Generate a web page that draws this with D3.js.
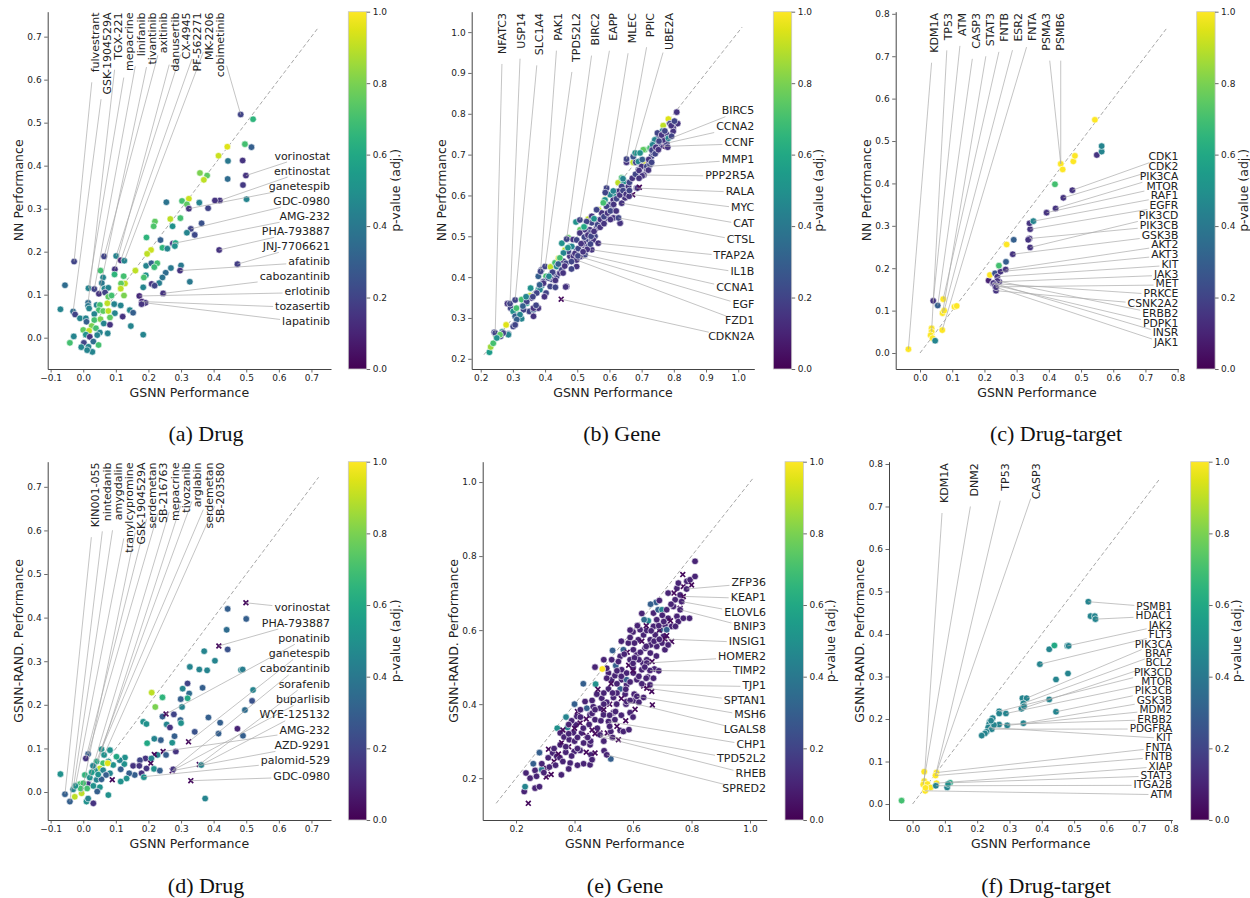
<!DOCTYPE html>
<html><head><meta charset="utf-8">
<script src="https://cdn.jsdelivr.net/npm/d3@7"></script>
<style>
body{margin:0;background:#fff;}
svg text{font-family:"DejaVu Sans",sans-serif;}
</style></head><body>
<svg id="chart" width="1250" height="898"></svg>
<script>
// ---------------- DATA ----------------
// each point: [GSNN performance, other model performance, adjusted p-value, marker(1 = x)]
const drugNN = [
[0.483,0.519,0.2],[0.521,0.508,0.65],[0.496,0.45,0.7],[0.516,0.443,0.3],[0.442,0.444,0.95],[0.415,0.423,0.92],[0.444,0.411,0.4],[0.489,0.412,0.15],[0.499,0.377,0.15],[0.49,0.355,0.17],[0.443,0.369,0.35],[0.358,0.383,0.8],[0.38,0.377,0.75],[0.37,0.367,0.9],[0.501,0.322,0.45],[0.419,0.319,0.15],[0.404,0.319,0.15],[0.383,0.301,0.2],[0.356,0.314,0.45],[0.324,0.323,0.92],[0.303,0.318,0.7],[0.318,0.31,0.75],[0.324,0.30,0.15],[0.255,0.315,0.38],[0.363,0.266,0.25],[0.33,0.253,0.2],[0.342,0.239,0.22],[0.318,0.244,0.45],[0.22,0.27,0.75],[0.216,0.259,0.72],[0.267,0.276,0.9],[0.298,0.278,0.7],[0.274,0.259,0.5],[0.194,0.233,0.65],[0.237,0.227,0.3],[0.275,0.219,0.15],[0.283,0.22,0.6],[0.281,0.213,0.5],[0.243,0.209,0.65],[0.258,0.207,0.45],[0.208,0.204,0.92],[0.196,0.195,0.9],[0.417,0.204,0.15],[0.473,0.171,0.18],[0.16,0.156,0.9],[0.064,0.189,0.2],[0.101,0.19,0.45],[0.115,0.18,0.12],[0.126,0.179,0.45],[-0.028,0.177,0.2],[-0.056,0.122,0.35],[-0.07,0.066,0.45],[0.193,0.167,0.45],[0.209,0.173,0.3],[0.227,0.173,0.7],[0.218,0.164,0.68],[0.192,0.145,0.5],[0.186,0.14,0.7],[0.184,0.117,0.45],[0.269,0.162,0.4],[0.3,0.168,0.4],[0.297,0.156,0.15],[0.253,0.151,0.35],[0.243,0.14,0.38],[0.327,0.13,0.4],[0.233,0.127,0.42],[0.21,0.125,0.15],[0.219,0.121,0.2],[0.245,0.103,0.15],[0.172,0.097,0.12],[0.18,0.084,0.12],[0.191,0.081,0.15],[0.179,0.078,0.15],[0.184,0.007,0.45],
[0.053,0.156,0.7],[0.061,0.14,0.45],[0.097,0.159,0.15],[0.096,0.147,0.65],[0.124,0.143,0.7],[0.057,0.127,0.4],[0.016,0.115,0.45],[0.034,0.113,0.2],[0.065,0.114,0.45],[0.077,0.116,0.45],[0.128,0.126,0.9],[0.116,0.126,0.75],[0.115,0.114,0.9],[0.048,0.102,0.15],[0.067,0.105,0.2],[0.077,0.095,0.75],[0.087,0.098,0.7],[0.125,0.098,0.8],[0.015,0.081,0.35],[0.015,0.074,0.4],[0.018,0.068,0.45],[-0.031,0.061,0.35],[-0.025,0.054,0.2],[0.041,0.076,0.45],[0.051,0.076,0.7],[0.074,0.08,0.9],[0.095,0.078,0.45],[0.115,0.075,0.45],[0.048,0.064,0.7],[0.061,0.062,0.75],[0.077,0.062,0.9],[0.097,0.057,0.45],[0.034,0.055,0.45],[0.143,0.064,0.45],[0.153,0.058,0.3],[0.121,0.049,0.15],[0.082,0.047,0.75],[-0.01,0.045,0.45],[0.008,0.045,0.45],[0.034,0.041,0.7],[0.053,0.043,0.8],[0.063,0.033,0.45],[0.082,0.03,0.15],[0.146,0.027,0.45],[0.01,0.037,0.3],[0.026,0.027,0.8],[0.0,0.018,0.75],[0.018,0.016,0.9],[0.039,0.022,0.7],[0.051,0.012,0.45],[0.075,0.01,0.45],[0.043,0.006,0.45],[0.008,0.007,0.5],[-0.029,0.003,0.45],[0.02,0.002,0.15],[-0.041,-0.012,0.7],[0.002,-0.012,0.2],[0.031,-0.009,0.35],[-0.006,-0.022,0.45],[0.016,-0.021,0.45],[0.047,-0.017,0.7],[0.028,-0.033,0.45],[0.012,-0.029,0.45]
];
const drugNN_top = [["fulvestrant",-0.028,0.177],["GSK-1904529A",-0.031,0.061],["TGX-221",0.015,0.081],["mepacrine",0.016,0.115],["linifanib",0.034,0.113],["tivantinib",0.048,0.102],["axitinib",0.064,0.189],["danusertib",0.097,0.159],["CX-4945",0.101,0.19],["PF-562271",0.115,0.18],["MK-2206",0.126,0.179],["cobimetinib",0.483,0.519]];
const drugNN_right = [["vorinostat",0.499,0.377],["entinostat",0.419,0.319],["ganetespib",0.324,0.30],["GDC-0980",0.33,0.253],["AMG-232",0.275,0.219],["PHA-793887",0.417,0.204],["JNJ-7706621",0.473,0.171],["afatinib",0.297,0.156],["cabozantinib",0.245,0.103],["erlotinib",0.172,0.097],["tozasertib",0.18,0.084],["lapatinib",0.191,0.081]];

const geneNN = [
[0.227,0.216,0.55],[0.231,0.229,0.85],[0.239,0.238,0.7],[0.242,0.265,0.2],[0.248,0.255,0.75],[0.245,0.263,0.2],[0.262,0.255,0.2],[0.267,0.266,0.45],[0.286,0.261,0.25],[0.279,0.283,0.95],[0.283,0.335,0.15],[0.293,0.324,0.2],[0.291,0.335,0.2],[0.301,0.316,0.5],[0.311,0.324,0.7],[0.307,0.304,0.3],[0.301,0.279,0.2],[0.307,0.344,0.2],[0.327,0.345,0.7],[0.343,0.336,0.55],[0.327,0.298,0.45],[0.355,0.373,0.5],[0.353,0.354,0.9],[0.351,0.316,0.2],[0.364,0.32,0.3],[0.379,0.324,0.15],[0.364,0.304,0.15],[0.379,0.402,0.3],[0.389,0.418,0.2],[0.386,0.414,0.2],[0.403,0.402,0.7],[0.389,0.379,0.45],[0.403,0.361,0.2],[0.395,0.389,0.2],[0.379,0.369,0.5],[0.4,0.426,0.2],[0.417,0.425,0.9],[0.431,0.435,0.7],[0.436,0.402,0.2],[0.42,0.395,0.2],[0.442,0.446,0.95],[0.457,0.439,0.15],[0.467,0.377,0.15],[0.477,0.451,0.15],[0.462,0.466,0.9],[0.452,0.483,0.5],[0.477,0.475,0.45],[0.472,0.496,0.75],[0.487,0.492,0.15],[0.467,0.493,0.2],[0.498,0.426,0.15],[0.514,0.452,0.15],[0.498,0.467,0.2],[0.519,0.479,0.15],[0.529,0.492,0.2],[0.509,0.516,0.75],[0.524,0.52,0.3],[0.539,0.516,0.15],[0.545,0.492,0.15],[0.555,0.5,0.2],[0.496,0.535,0.5],[0.508,0.54,0.2],[0.534,0.542,0.9],[0.545,0.533,0.2],[0.56,0.52,0.15],[0.576,0.533,0.15],[0.566,0.565,0.9],[0.576,0.557,0.3],[0.589,0.608,0.15],[0.586,0.59,0.95],[0.602,0.577,0.2],[0.612,0.565,0.2],[0.591,0.545,0.15],[0.612,0.545,0.15],[0.633,0.533,0.15],[0.617,0.598,0.5],[0.591,0.618,0.2],[0.627,0.631,0.9],[0.638,0.643,0.7],[0.638,0.606,0.2],[0.653,0.618,0.15],[0.648,0.594,0.15],[0.672,0.602,0.03,1],[0.684,0.618,0.15],[0.653,0.681,0.15],[0.653,0.689,0.2],[0.674,0.681,0.9],[0.674,0.695,0.25],[0.68,0.704,0.5],[0.69,0.663,0.2],[0.705,0.651,0.3],[0.71,0.712,0.7],[0.715,0.676,0.15],[0.731,0.696,0.2],[0.741,0.724,0.45],[0.747,0.708,0.15],[0.762,0.722,0.03,1],[0.767,0.741,0.45],[0.778,0.749,0.15],[0.757,0.745,0.2],
[0.809,0.804,0.15],[0.812,0.776,0.15],[0.783,0.787,0.95],[0.767,0.771,0.9],[0.798,0.765,0.15],[0.788,0.776,0.2],[0.765,0.758,0.4],[0.778,0.736,0.2],[0.752,0.745,0.2],[0.736,0.727,0.45],[0.726,0.716,0.7],[0.705,0.712,0.75],[0.736,0.704,0.2],[0.695,0.704,0.5],[0.682,0.681,0.2],[0.703,0.681,0.95],[0.765,0.72,0.03,1],[0.778,0.728,0.2],[0.69,0.683,0.45],[0.7,0.671,0.15],[0.716,0.663,0.15],[0.716,0.671,0.2],[0.726,0.675,0.2],[0.757,0.72,0.15],[0.767,0.736,0.15],[0.783,0.74,0.45],[0.798,0.757,0.15],[0.793,0.745,0.2],[0.752,0.728,0.2],[0.741,0.736,0.45],[0.749,0.753,0.2],[0.734,0.724,0.45],[0.707,0.65,0.15],[0.645,0.634,0.5],[0.659,0.622,0.15],[0.638,0.622,0.2],[0.628,0.61,0.15],[0.648,0.606,0.2],[0.612,0.589,0.15],[0.602,0.602,0.45],[0.586,0.589,0.5],[0.591,0.573,0.2],[0.576,0.557,0.15],[0.56,0.565,0.2],[0.545,0.549,0.15],[0.56,0.54,0.15],[0.529,0.536,0.2],[0.524,0.516,0.15],[0.539,0.508,0.2],[0.508,0.508,0.15],[0.498,0.491,0.2],[0.519,0.483,0.15],[0.534,0.475,0.2],[0.55,0.491,0.15],[0.483,0.475,0.45],[0.472,0.463,0.2],[0.488,0.451,0.15],[0.457,0.459,0.45],[0.446,0.447,0.7],[0.465,0.434,0.2],[0.436,0.426,0.45],[0.426,0.41,0.2],[0.446,0.41,0.15],[0.41,0.398,0.2],[0.395,0.385,0.15],[0.416,0.377,0.2],[0.384,0.369,0.45],[0.374,0.361,0.2],[0.358,0.349,0.15],[0.343,0.34,0.2],[0.364,0.324,0.15],[0.333,0.32,0.2],[0.322,0.308,0.45],[0.312,0.296,0.3],[0.307,0.283,0.2],[0.286,0.259,0.45],[0.27,0.263,0.2],[0.26,0.259,0.75],[0.25,0.251,0.5],[0.633,0.532,0.15],[0.687,0.618,0.15],[0.464,0.376,0.15],[0.587,0.607,0.2],[0.565,0.483,0.15],[0.545,0.467,0.15],[0.524,0.455,0.2],[0.508,0.45,0.15],[0.498,0.442,0.15],[0.638,0.581,0.15],[0.628,0.545,0.2],[0.45,0.346,0.03,1],
[0.423,0.412,0.2],[0.432,0.392,0.15],[0.452,0.418,0.2],[0.461,0.427,0.15],[0.482,0.438,0.2],[0.493,0.458,0.15],[0.503,0.47,0.2],[0.512,0.482,0.15],[0.522,0.498,0.2],[0.533,0.503,0.15],[0.543,0.5,0.2],[0.552,0.512,0.15],[0.563,0.528,0.2],[0.572,0.541,0.15],[0.583,0.548,0.2],[0.594,0.557,0.15],[0.603,0.562,0.2],[0.613,0.578,0.15],[0.622,0.592,0.2],[0.632,0.601,0.15],[0.642,0.612,0.2],[0.652,0.603,0.15],[0.662,0.632,0.2],[0.671,0.642,0.15],[0.681,0.652,0.2],[0.692,0.661,0.15],[0.702,0.688,0.3],[0.722,0.688,0.15],[0.732,0.711,0.2],[0.744,0.718,0.15],[0.754,0.733,0.2],[0.762,0.748,0.15],[0.772,0.758,0.2],[0.792,0.771,0.15],[0.802,0.782,0.2],[0.471,0.472,0.5],[0.441,0.432,0.3],[0.412,0.402,0.45],[0.383,0.381,0.3],[0.362,0.352,0.2],[0.341,0.352,0.45],[0.331,0.329,0.3],[0.521,0.523,0.6],[0.552,0.543,0.5],[0.581,0.582,0.7],[0.612,0.611,0.45],[0.642,0.641,0.45],[0.571,0.522,0.15],[0.603,0.541,0.15],[0.502,0.452,0.2],[0.531,0.468,0.15],[0.621,0.562,0.15],[0.661,0.598,0.15],[0.702,0.648,0.15],[0.721,0.662,0.15],[0.742,0.702,0.2],[0.583,0.531,0.15],[0.541,0.481,0.2],[0.518,0.462,0.15],[0.482,0.42,0.2],[0.456,0.41,0.15],[0.432,0.375,0.2],[0.398,0.352,0.15],[0.372,0.331,0.2],[0.662,0.612,0.2],[0.692,0.642,0.15],[0.731,0.681,0.2],[0.752,0.712,0.15],[0.781,0.718,0.15],[0.693,0.62,0.03,1]
];
const geneNN_top = [["NFATC3",0.245,0.263],["USP14",0.291,0.335],["SLC1A4",0.307,0.344],["PAK1",0.386,0.414],["TPD52L2",0.4,0.426],["BIRC2",0.467,0.493],["EAPP",0.508,0.54],["MLEC",0.591,0.618],["PPIC",0.653,0.689],["UBE2A",0.674,0.695]];
const geneNN_right = [["BIRC5",0.778,0.736],["CCNA2",0.778,0.728],["CCNF",0.765,0.72],["MMP1",0.716,0.671],["PPP2R5A",0.707,0.65],["RALA",0.684,0.618],["MYC",0.672,0.602],["CAT",0.638,0.581],["CTSL",0.628,0.545],["TFAP2A",0.565,0.483],["IL1B",0.545,0.467],["CCNA1",0.524,0.455],["EGF",0.508,0.45],["FZD1",0.498,0.442],["CDKN2A",0.45,0.346]];

const targetNN = [
[-0.036,0.009,1.0],[0.036,0.058,1.0],[0.036,0.05,1.0],[0.033,0.042,1.0],[0.039,0.035,1.0],[0.047,0.029,0.45],[0.041,0.123,0.15],[0.055,0.112,0.3],[0.072,0.127,1.0],[0.07,0.094,1.0],[0.075,0.1,1.0],[0.069,0.054,1.0],[0.107,0.109,1.0],[0.114,0.111,1.0],[0.213,0.171,0.1],[0.217,0.184,1.0],[0.233,0.188,0.25],[0.226,0.164,0.15],[0.234,0.156,0.15],[0.24,0.18,0.15],[0.246,0.168,0.15],[0.24,0.17,0.15],[0.228,0.165,0.15],[0.233,0.16,0.15],[0.236,0.147,0.15],[0.236,0.155,0.15],[0.25,0.192,0.15],[0.245,0.206,0.7],[0.267,0.215,0.3],[0.266,0.197,0.15],[0.269,0.256,1.0],[0.288,0.233,0.15],[0.291,0.267,0.3],[0.34,0.27,0.15],[0.342,0.249,0.15],[0.336,0.267,0.15],[0.342,0.292,0.15],[0.34,0.306,0.15],[0.352,0.311,0.45],[0.393,0.331,0.15],[0.421,0.341,0.15],[0.445,0.366,0.15],[0.473,0.384,0.15],[0.419,0.398,0.7],[0.437,0.446,1.0],[0.443,0.433,1.0],[0.476,0.452,1.0],[0.481,0.465,1.0],[0.549,0.467,0.15],[0.564,0.475,0.45],[0.564,0.488,0.45],[0.543,0.55,1.0]
];
const targetNN_top = [["KDM1A",-0.036,0.009],["TP53",0.036,0.05],["ATM",0.041,0.123],["CASP3",0.055,0.112],["STAT3",0.07,0.094],["FNTB",0.072,0.127],["ESR2",0.075,0.1],["FNTA",0.069,0.054],["PSMA3",0.437,0.446],["PSMB6",0.437,0.446]];
const targetNN_right = [["CDK1",0.473,0.384],["CDK2",0.445,0.366],["PIK3CA",0.421,0.341],["MTOR",0.393,0.331],["RAF1",0.352,0.311],["EGFR",0.342,0.292],["PIK3CD",0.342,0.249],["PIK3CB",0.34,0.27],["GSK3B",0.288,0.233],["AKT2",0.266,0.197],["AKT3",0.25,0.192],["KIT",0.24,0.18],["JAK3",0.246,0.168],["MET",0.234,0.156],["PRKCE",0.226,0.164],["CSNK2A2",0.236,0.147],["ERBB2",0.24,0.17],["PDPK1",0.233,0.16],["INSR",0.228,0.165],["JAK1",0.236,0.155]];

const drugRAND = [
[0.499,0.434,0.03,1],[0.443,0.42,0.3],[0.5,0.397,0.3],[0.44,0.372,0.35],[0.416,0.335,0.03,1],[0.443,0.327,0.25],[0.371,0.323,0.45],[0.404,0.301,0.45],[0.327,0.287,0.45],[0.356,0.281,0.45],[0.38,0.279,0.45],[0.484,0.28,0.45],[0.489,0.281,0.42],[0.32,0.249,0.2],[0.305,0.237,0.45],[0.366,0.239,0.3],[0.325,0.226,0.35],[0.521,0.234,0.45],[0.21,0.228,0.9],[0.243,0.217,0.65],[0.32,0.215,0.6],[0.299,0.213,0.3],[0.518,0.209,0.25],[0.221,0.195,0.8],[0.303,0.195,0.45],[0.496,0.188,0.35],[0.243,0.173,0.3],[0.254,0.179,0.03,1],[0.278,0.178,0.2],[0.384,0.171,0.3],[0.298,0.165,0.3],[0.3,0.158,0.5],[0.184,0.161,0.5],[0.194,0.156,0.5],[0.256,0.155,0.45],[0.266,0.148,0.15],[0.42,0.159,0.3],[0.473,0.145,0.1],[0.342,0.138,0.25],[0.415,0.134,0.3],[0.49,0.129,0.3],[0.28,0.128,0.3],[0.323,0.115,0.03,1],[0.218,0.122,0.45],[0.238,0.119,0.3],[0.196,0.112,0.6],[0.273,0.113,0.5],[0.284,0.093,0.15],[0.245,0.093,0.03,1],[0.254,0.085,0.3],[0.228,0.085,0.45],[0.218,0.086,0.03,1],[0.191,0.077,0.15],[0.174,0.073,0.2],[0.209,0.077,0.45],[0.207,0.066,0.03,1],[0.194,0.054,0.15],[0.217,0.053,0.5],[0.235,0.049,0.3],[0.273,0.049,0.03,1],[0.276,0.052,0.15],[0.356,0.063,0.03,1],[0.362,0.062,0.45],[0.33,0.026,0.03,1],[0.374,-0.015,0.45],[0.179,0.043,0.15],[0.186,0.034,0.5],[0.153,0.06,0.15],[0.158,0.039,0.3],[0.172,0.06,0.15],[0.128,0.079,0.5],[0.126,0.064,0.5],[0.112,0.073,0.45],[0.102,0.081,0.6],[0.082,0.096,0.5],[0.056,0.098,0.5],[0.064,0.085,0.5],[0.077,0.07,0.5],[0.092,0.062,0.5],[0.115,0.052,0.3],[0.141,0.043,0.3],[0.133,0.031,0.5],[0.115,0.024,0.5],[0.089,0.028,0.03,1],[0.015,0.087,0.3],[0.008,0.077,0.15],[0.041,0.07,0.6],[0.061,0.066,0.7],[0.075,0.066,0.95],[0.051,0.054,0.9],[0.036,0.049,0.5],[0.061,0.05,0.45],[0.082,0.043,0.45],[0.07,0.039,0.3],[0.005,0.039,0.65],[0.02,0.033,0.5],[0.041,0.028,0.45],[0.056,0.029,0.3],[0.015,0.018,0.15],[-0.01,0.018,0.7],[0.0,0.02,0.7],[0.031,0.014,0.5],[0.051,0.011,0.5],[0.077,-0.007,0.5],[0.043,0.001,0.3],[-0.005,-0.003,0.9],[-0.026,-0.011,0.9],[0.012,0.008,0.7],[-0.008,0.008,0.7],[-0.031,0.006,0.45],[-0.024,0.014,0.5],[0.01,-0.022,0.5],[0.031,-0.026,0.15],[0.015,-0.015,0.45],[-0.041,-0.022,0.3],[-0.056,-0.005,0.3],[-0.07,0.041,0.5],[0.026,0.045,0.55],[0.046,0.04,0.5],[0.03,0.06,0.45]
];
const drugRAND_top = [["KIN001-055",-0.056,-0.005],["nintedanib",-0.041,-0.022],["amygdalin",-0.031,0.006],["tranylcypromine",-0.024,0.014],["GSK-1904529A",-0.005,-0.003],["serdemetan",0.008,0.077],["SB-216763",0.015,0.087],["mepacrine",0.02,0.033],["tivozanib",0.036,0.049],["arglabin",0.041,0.07],["serdemetan",0.056,0.098],["SB-203580",0.064,0.085]];
const drugRAND_right = [["vorinostat",0.499,0.434],["PHA-793887",0.416,0.335],["ponatinib",0.254,0.179],["ganetespib",0.323,0.115],["cabozantinib",0.276,0.052],["sorafenib",0.356,0.063],["buparlisib",0.273,0.049],["WYE-125132",0.362,0.062],["AMG-232",0.245,0.093],["AZD-9291",0.273,0.049],["palomid-529",0.184,0.035],["GDC-0980",0.33,0.026]];

const geneRAND = [
[0.242,0.132,0.03,1],[0.228,0.164,0.1],[0.231,0.177,0.45],[0.248,0.2,0.1],[0.234,0.214,0.1],[0.265,0.221,0.1],[0.259,0.239,0.3],[0.288,0.223,0.4],[0.288,0.239,0.1],[0.305,0.227,0.03,1],[0.265,0.173,0.1],[0.28,0.177,0.1],[0.303,0.203,0.03,1],[0.314,0.23,0.1],[0.355,0.209,0.1],[0.28,0.269,0.3],[0.311,0.278,0.03,1],[0.325,0.268,0.1],[0.351,0.29,0.1],[0.339,0.259,0.1],[0.385,0.241,0.1],[0.399,0.272,0.1],[0.341,0.335,0.5],[0.376,0.337,0.45],[0.371,0.365,0.45],[0.356,0.296,0.03,1],[0.351,0.322,0.1],[0.364,0.311,0.1],[0.382,0.304,0.1],[0.396,0.323,0.1],[0.405,0.344,0.1],[0.408,0.367,0.1],[0.419,0.349,0.03,1],[0.424,0.322,0.1],[0.431,0.295,0.1],[0.419,0.275,0.1],[0.453,0.29,0.1],[0.456,0.263,0.1],[0.431,0.239,0.1],[0.453,0.236,0.1],[0.47,0.268,0.03,1],[0.442,0.389,0.3],[0.436,0.407,0.1],[0.464,0.393,0.1],[0.453,0.371,0.1],[0.47,0.358,0.1],[0.478,0.335,0.1],[0.487,0.322,0.03,1],[0.499,0.371,0.1],[0.487,0.389,0.1],[0.493,0.416,0.1],[0.476,0.427,0.1],[0.512,0.322,0.03,1],[0.524,0.326,0.1],[0.538,0.358,0.1],[0.556,0.329,0.1],[0.55,0.304,0.03,1],[0.567,0.326,0.1],[0.586,0.331,0.1],[0.501,0.274,0.1],[0.524,0.252,0.3],[0.533,0.377,0.1],[0.544,0.4,0.1],[0.533,0.418,0.1],[0.516,0.441,0.1],[0.527,0.466,0.1],[0.516,0.484,0.1],[0.538,0.477,0.1],[0.541,0.504,0.3],[0.527,0.52,0.1],[0.51,0.497,0.1],[0.495,0.495,1.0],[0.472,0.454,0.5],[0.556,0.441,0.3],[0.573,0.427,0.1],[0.561,0.466,0.1],[0.578,0.452,0.1],[0.578,0.466,0.3],[0.561,0.493,0.1],[0.578,0.484,0.1],[0.59,0.52,0.1],[0.556,0.529,0.1],[0.567,0.547,0.3],[0.601,0.547,0.1],[0.584,0.565,0.1],[0.613,0.533,0.1],[0.634,0.511,0.1],[0.63,0.493,0.1],[0.601,0.484,0.1],[0.613,0.466,0.1],[0.636,0.449,0.03,1],[0.604,0.427,0.1],[0.601,0.409,0.1],[0.576,0.4,0.1],[0.59,0.377,0.1],[0.607,0.386,0.03,1],[0.636,0.418,0.1],[0.664,0.434,0.03,1],[0.666,0.398,0.03,1],[0.65,0.473,0.1],[0.67,0.47,0.1],[0.673,0.495,0.1],[0.688,0.49,0.1],[0.647,0.52,0.1],[0.659,0.538,0.1],[0.641,0.551,0.1],[0.618,0.574,0.1],[0.636,0.587,0.1],[0.624,0.601,0.1],[0.647,0.599,0.1],[0.659,0.574,0.1],[0.676,0.587,0.1],[0.693,0.601,0.3],[0.67,0.61,0.1],[0.681,0.628,0.1],[0.652,0.625,0.45],[0.638,0.628,0.35],[0.67,0.646,0.1],[0.686,0.655,0.3],[0.679,0.675,0.3],[0.699,0.655,0.45],[0.715,0.655,0.1],[0.72,0.632,0.1],[0.709,0.614,0.1],[0.704,0.583,0.1],[0.699,0.565,0.1],[0.709,0.547,0.1],[0.681,0.556,0.1],[0.732,0.569,0.03,1],[0.732,0.61,0.1],[0.715,0.601,0.3],[0.75,0.637,0.1],[0.755,0.623,0.1],[0.738,0.664,0.1],[0.761,0.659,0.03,1],[0.767,0.677,0.03,1],[0.744,0.682,0.1],[0.761,0.695,0.1],[0.75,0.713,0.1],[0.772,0.718,0.03,1],[0.755,0.727,0.1],[0.784,0.732,0.1],[0.795,0.736,0.1],[0.8,0.722,0.03,1],[0.812,0.745,0.1],[0.77,0.75,0.03,1],[0.812,0.786,0.1],[0.793,0.632,0.1],[0.772,0.632,0.1],[0.783,0.711,0.1],[0.772,0.691,0.03,1],[0.766,0.677,0.1],[0.761,0.655,0.1],[0.709,0.576,0.03,1],[0.647,0.511,0.1],[0.658,0.491,0.1],[0.658,0.452,0.1],[0.647,0.443,0.03,1],[0.613,0.421,0.1],[0.578,0.407,0.1],[0.516,0.353,0.1],[0.487,0.317,0.1],[0.51,0.263,0.1],[0.455,0.3,0.1],[0.44,0.315,0.03,1],[0.4,0.3,0.1],[0.38,0.285,0.03,1],[0.37,0.27,0.1],[0.35,0.255,0.1],[0.33,0.245,0.03,1],[0.45,0.345,0.1],[0.46,0.33,0.03,1],[0.42,0.365,0.1],[0.39,0.355,0.1],[0.41,0.38,0.03,1],[0.545,0.43,0.1],[0.52,0.4,0.03,1],[0.6,0.5,0.1],[0.62,0.52,0.1],[0.58,0.54,0.03,1],[0.66,0.56,0.1],[0.69,0.6,0.03,1],[0.7,0.64,0.1],[0.73,0.67,0.1],[0.74,0.7,0.03,1],
[0.6,0.595,0.1],[0.615,0.612,0.1],[0.645,0.612,0.03,1],[0.662,0.598,0.1],[0.688,0.612,0.1],[0.705,0.623,0.1],[0.728,0.625,0.03,1],[0.745,0.61,0.1],[0.59,0.58,0.1],[0.605,0.565,0.1],[0.63,0.57,0.03,1],[0.645,0.556,0.1],[0.672,0.57,0.1],[0.69,0.575,0.1],[0.715,0.585,0.03,1],[0.72,0.56,0.1],[0.55,0.515,0.1],[0.57,0.535,0.1],[0.585,0.505,0.03,1],[0.605,0.525,0.1],[0.625,0.54,0.1],[0.64,0.5,0.1],[0.665,0.515,0.03,1],[0.68,0.53,0.1],[0.6,0.51,0.1],[0.51,0.47,0.1],[0.525,0.455,0.03,1],[0.545,0.49,0.1],[0.56,0.475,0.1],[0.59,0.46,0.1],[0.6,0.49,0.03,1],[0.62,0.475,0.1],[0.63,0.455,0.1],[0.645,0.47,0.1],[0.545,0.455,0.1],[0.46,0.41,0.1],[0.48,0.44,0.03,1],[0.5,0.43,0.1],[0.51,0.405,0.1],[0.53,0.43,0.1],[0.56,0.415,0.03,1],[0.575,0.44,0.1],[0.59,0.41,0.1],[0.62,0.405,0.1],[0.5,0.4,0.1],[0.42,0.385,0.1],[0.44,0.36,0.03,1],[0.46,0.375,0.1],[0.47,0.385,0.1],[0.49,0.355,0.1],[0.5,0.385,0.03,1],[0.52,0.37,0.1],[0.54,0.38,0.1],[0.56,0.37,0.1],[0.575,0.355,0.03,1],[0.6,0.365,0.1],[0.38,0.32,0.1],[0.4,0.335,0.03,1],[0.41,0.31,0.1],[0.43,0.335,0.1],[0.445,0.31,0.1],[0.47,0.32,0.03,1],[0.5,0.3,0.1],[0.52,0.34,0.1],[0.53,0.31,0.1],[0.545,0.34,0.03,1],[0.31,0.255,0.1],[0.33,0.28,0.1],[0.345,0.265,0.03,1],[0.37,0.285,0.1],[0.39,0.26,0.1],[0.41,0.28,0.1],[0.44,0.27,0.03,1],[0.46,0.25,0.1],[0.36,0.245,0.1],[0.27,0.205,0.1],[0.295,0.215,0.1],[0.32,0.21,0.03,1],[0.335,0.235,0.1],[0.38,0.225,0.1],[0.41,0.235,0.1],[0.43,0.455,0.3],[0.47,0.5,0.1],[0.5,0.52,0.1],[0.53,0.545,0.3],[0.56,0.57,0.1],[0.59,0.6,0.1],[0.63,0.645,0.1],[0.66,0.67,0.3],[0.69,0.68,0.1],[0.72,0.7,0.1],[0.4,0.4,0.3],[0.38,0.345,0.1],[0.36,0.33,0.03,1]
];
const geneRAND_right = [["ZFP36",0.783,0.711],["KEAP1",0.772,0.691],["ELOVL6",0.766,0.677],["BNIP3",0.761,0.655],["INSIG1",0.709,0.576],["HOMER2",0.647,0.511],["TIMP2",0.658,0.491],["TJP1",0.658,0.452],["SPTAN1",0.647,0.443],["MSH6",0.613,0.421],["LGALS8",0.578,0.407],["CHP1",0.516,0.353],["TPD52L2",0.487,0.317],["RHEB",0.487,0.313],["SPRED2",0.51,0.263]];

const targetRAND = [
[-0.034,0.008,0.7],[0.036,0.076,1.0],[0.074,0.074,1.0],[0.071,0.067,1.0],[0.036,0.054,1.0],[0.033,0.046,1.0],[0.046,0.047,1.0],[0.074,0.049,1.0],[0.056,0.039,1.0],[0.039,0.031,1.0],[0.04,0.038,1.0],[0.072,0.043,0.45],[0.107,0.039,0.45],[0.116,0.05,0.6],[0.11,0.047,0.5],[0.544,0.476,0.45],[0.551,0.442,0.45],[0.564,0.442,0.45],[0.566,0.435,0.45],[0.423,0.364,0.45],[0.439,0.373,0.6],[0.479,0.372,0.45],[0.483,0.372,0.45],[0.394,0.329,0.45],[0.444,0.293,0.45],[0.481,0.307,0.45],[0.423,0.246,0.45],[0.444,0.217,0.45],[0.34,0.249,0.45],[0.353,0.249,0.45],[0.343,0.237,0.45],[0.337,0.224,0.45],[0.345,0.23,0.45],[0.343,0.19,0.45],[0.268,0.218,0.45],[0.268,0.213,0.45],[0.289,0.213,0.45],[0.293,0.185,0.45],[0.268,0.187,0.45],[0.248,0.202,0.45],[0.239,0.194,0.45],[0.237,0.188,0.45],[0.234,0.18,0.45],[0.245,0.176,0.45],[0.229,0.17,0.45],[0.224,0.166,0.45],[0.214,0.161,0.45],[0.252,0.186,0.45],[0.243,0.196,0.45]
];
const targetRAND_top = [["KDM1A",0.036,0.054],["DNM2",0.033,0.046],["TP53",0.071,0.067],["CASP3",0.074,0.074]];
const targetRAND_right = [["PSMB1",0.544,0.476],["HDAC1",0.566,0.435],["JAK2",0.479,0.372],["FLT3",0.394,0.329],["PIK3CA",0.353,0.249],["BRAF",0.343,0.237],["BCL2",0.337,0.224],["PIK3CD",0.268,0.218],["MTOR",0.289,0.213],["PIK3CB",0.444,0.217],["GSK3B",0.343,0.19],["MDM2",0.293,0.185],["ERBB2",0.268,0.187],["PDGFRA",0.245,0.176],["KIT",0.234,0.18],["FNTA",0.074,0.074],["FNTB",0.071,0.067],["XIAP",0.074,0.049],["STAT3",0.116,0.05],["ITGA2B",0.072,0.043],["ATM",0.039,0.031]];

const ticksA = [-0.1,0,0.1,0.2,0.3,0.4,0.5,0.6,0.7];
const ticksAy = [0,0.1,0.2,0.3,0.4,0.5,0.6,0.7];
const ticksB = [0.2,0.3,0.4,0.5,0.6,0.7,0.8,0.9,1.0];
const ticksC = [0,0.1,0.2,0.3,0.4,0.5,0.6,0.7,0.8];
const ticksE = [0.2,0.4,0.6,0.8,1.0];
const cbTicks = [0,0.2,0.4,0.6,0.8,1.0];
const captions = ["(a) Drug","(b) Gene","(c) Drug-target","(d) Drug","(e) Gene","(f) Drug-target"];

// ---------------- LAYOUT ----------------
const panels = [
 {pts:drugNN, top:drugNN_top, right:drugNN_right, L:47.7,R:331,T:11.7,B:369, xdom:[-0.109,0.76], ydom:[-0.0728,0.758], xt:ticksA, yt:ticksAy, diag:[0,0.72], ylab:"NN Performance", ylx:18.3,
  topX0:95.7, topDX:11.36, topY:12.5, rX:330, rY0:156, rDY:15.06, lfs:11, cbL:348.3, cbW:18.4, cblx:395, cap:captions[0], capX:206, capY:441},
 {pts:geneNN, top:geneNN_top, right:geneNN_right, L:471.7,R:754.3,T:11.7,B:369, xdom:[0.172,1.05], ydom:[0.175,1.05], xt:ticksB, yt:ticksB, diag:[0.21,1.012], ylab:"NN Performance", ylx:441.7,
  topX0:502.7, topDX:18.48, topY:13, rX:754.3, rY0:110.7, rDY:16.11, lfs:11, cbL:773.3, cbW:18.4, cblx:818, cap:captions[1], capX:622, capY:441},
 {pts:targetNN, top:targetNN_top, right:targetNN_right, L:895.7,R:1178.3,T:11.7,B:369, xdom:[-0.0755,0.802], ydom:[-0.0377,0.805], xt:ticksC, yt:ticksC, diag:[0,0.765], ylab:"NN Performance", ylx:866.7,
  topX0:934, topDX:14.08, topY:13, rX:1178.3, rY0:156.7, rDY:9.79, lfs:10.8, cbL:1196.7, cbW:18.4, cblx:1243, cap:captions[2], capX:1056, capY:441},
 {pts:drugRAND, top:drugRAND_top, right:drugRAND_right, L:47.7,R:331,T:461.7,B:820, xdom:[-0.109,0.76], ydom:[-0.0642,0.7576], xt:ticksA, yt:ticksAy, diag:[0,0.722], ylab:"GSNN-RAND. Performance", ylx:18.3,
  topX0:95.7, topDX:11.36, topY:462.5, rX:330, rY0:607.7, rDY:15.3, lfs:11, cbL:348.3, cbW:18.4, cblx:395, cap:captions[3], capX:206, capY:893},
 {pts:geneRAND, top:[], right:geneRAND_right, L:482.7,R:766.7,T:461.7,B:820, xdom:[0.086,1.057], ydom:[0.087,1.055], xt:ticksE, yt:ticksE, diag:[0.132,1.012], ylab:"GSNN-RAND. Performance", ylx:453.3,
  topX0:0, topDX:0, topY:0, rX:766, rY0:582.7, rDY:14.69, lfs:11, cbL:785, cbW:18.4, cblx:830, cap:captions[4], capX:625, capY:893},
 {pts:targetRAND, top:targetRAND_top, right:targetRAND_right, L:889,R:1172.3,T:461.7,B:820, xdom:[-0.073,0.804], ydom:[-0.0376,0.8054], xt:ticksC, yt:ticksC, diag:[0,0.766], ylab:"GSNN-RAND. Performance", ylx:859.3,
  topX0:944, topDX:30.9, topY:463.3, rX:1172.3, rY0:606, rDY:9.385, lfs:10.5, cbL:1190.7, cbW:18.4, cblx:1236.7, cap:captions[5], capX:1046, capY:893}
];

const svg = d3.select("#chart");
const defs = svg.append("defs");
const grad = defs.append("linearGradient").attr("id","vir").attr("x1",0).attr("y1",1).attr("x2",0).attr("y2",0);
d3.range(0,1.0001,0.05).forEach(t=>grad.append("stop").attr("offset",t).attr("stop-color",d3.interpolateViridis(t)));

const fmt = d3.format(".1f");
const TXT = "#222", SPINE="#444";

function clip(cx,cy,hw,hh,tx,ty){
  const dx=tx-cx, dy=ty-cy; let t=1e9;
  if(dx!==0) t=Math.min(t,hw/Math.abs(dx));
  if(dy!==0) t=Math.min(t,hh/Math.abs(dy));
  return [cx+dx*t, cy+dy*t];
}

function styleAxis(sel){
  sel.select(".domain").attr("stroke",SPINE).attr("stroke-width",1);
  sel.selectAll(".tick line").attr("stroke",SPINE).attr("stroke-width",0.8);
  sel.selectAll(".tick text").attr("fill",TXT).style("font-size","9px").style("font-family","DejaVu Sans");
}

panels.forEach(P=>{
  const g = svg.append("g");
  const x = d3.scaleLinear().domain(P.xdom).range([P.L,P.R]);
  const y = d3.scaleLinear().domain(P.ydom).range([P.B,P.T]);
  const gx = g.append("g").attr("transform",`translate(0,${P.B})`)
    .call(d3.axisBottom(x).tickValues(P.xt).tickFormat(fmt).tickSize(3.5).tickSizeOuter(0).tickPadding(2.5));
  styleAxis(gx);
  const gy = g.append("g").attr("transform",`translate(${P.L},0)`)
    .call(d3.axisLeft(y).tickValues(P.yt).tickFormat(fmt).tickSize(3.5).tickSizeOuter(0).tickPadding(2.5));
  styleAxis(gy);
  g.append("text").attr("x",(P.L+P.R)/2).attr("y",P.B+28).attr("text-anchor","middle").attr("fill",TXT).style("font-size","12.5px").text("GSNN Performance");
  g.append("text").attr("transform",`translate(${P.ylx},${(P.T+P.B)/2}) rotate(-90)`).attr("text-anchor","middle").attr("dominant-baseline","central").attr("fill",TXT).style("font-size","12.5px").text(P.ylab);
  g.append("line").attr("x1",x(P.diag[0])).attr("y1",y(P.diag[0])).attr("x2",x(P.diag[1])).attr("y2",y(P.diag[1]))
    .attr("stroke","#a8a8a8").attr("stroke-width",1).attr("stroke-dasharray","4,2.5");
  const pg = g.append("g");
  P.pts.forEach(d=>{
    const cx=x(d[0]), cy=y(d[1]), col=d3.interpolateViridis(d[2]);
    if(d[3]===1){
      const s=2.4;
      pg.append("path").attr("d",`M${cx-s},${cy-s}L${cx+s},${cy+s}M${cx-s},${cy+s}L${cx+s},${cy-s}`)
        .attr("stroke",col).attr("stroke-width",1.7).attr("fill","none");
    } else {
      pg.append("circle").attr("cx",cx).attr("cy",cy).attr("r",3.3).attr("fill",col).attr("stroke","#fff").attr("stroke-width",0.6);
    }
  });
  const ag = g.append("g");
  const lg = g.append("g");
  P.top.forEach((a,i)=>{
    const lx = P.topX0 + i*P.topDX;
    const t = lg.append("text").attr("transform",`translate(${lx},${P.topY}) rotate(-90)`).attr("text-anchor","end").attr("dominant-baseline","central").attr("fill",TXT).style("font-size","11px").text(a[0]);
    const L = t.node().getComputedTextLength();
    const tx=x(a[1]), ty=y(a[2]);
    const s = clip(lx, P.topY+L/2, 6, L/2+10, tx, ty);
    ag.append("line").attr("x1",s[0]).attr("y1",s[1]).attr("x2",tx).attr("y2",ty).attr("stroke","#aaa").attr("stroke-width",0.7);
  });
  P.right.forEach((a,i)=>{
    const ly = P.rY0 + i*P.rDY;
    const t = lg.append("text").attr("x",P.rX).attr("y",ly).attr("text-anchor","end").attr("dominant-baseline","central").attr("fill",TXT).style("font-size",P.lfs+"px").text(a[0]);
    const w = t.node().getComputedTextLength();
    const tx=x(a[1]), ty=y(a[2]);
    const s = clip(P.rX-w/2, ly+1, w/2+2, 5, tx, ty);
    ag.append("line").attr("x1",s[0]).attr("y1",s[1]).attr("x2",tx).attr("y2",ty).attr("stroke","#aaa").attr("stroke-width",0.7);
  });
  const cy2 = d3.scaleLinear().domain([0,1]).range([P.B,P.T]);
  g.append("rect").attr("x",P.cbL).attr("y",P.T).attr("width",P.cbW).attr("height",P.B-P.T).attr("fill","url(#vir)").attr("stroke","#c8c8c8").attr("stroke-width",0.8);
  const gc = g.append("g").attr("transform",`translate(${P.cbL+P.cbW},0)`)
    .call(d3.axisRight(cy2).tickValues(cbTicks).tickFormat(fmt).tickSize(3.5).tickSizeOuter(0).tickPadding(2.5));
  styleAxis(gc); gc.select(".domain").remove();
  g.append("text").attr("transform",`translate(${P.cblx},${(P.T+P.B)/2}) rotate(-90)`).attr("text-anchor","middle").attr("dominant-baseline","central").attr("fill",TXT).style("font-size","12.5px").text("p-value (adj.)");
  svg.append("text").attr("x",P.capX).attr("y",P.capY).attr("text-anchor","middle").attr("fill","#111")
    .style("font-family","'Liberation Serif','Times New Roman',serif").style("font-size","22px").text(P.cap);
});
</script></body></html>
